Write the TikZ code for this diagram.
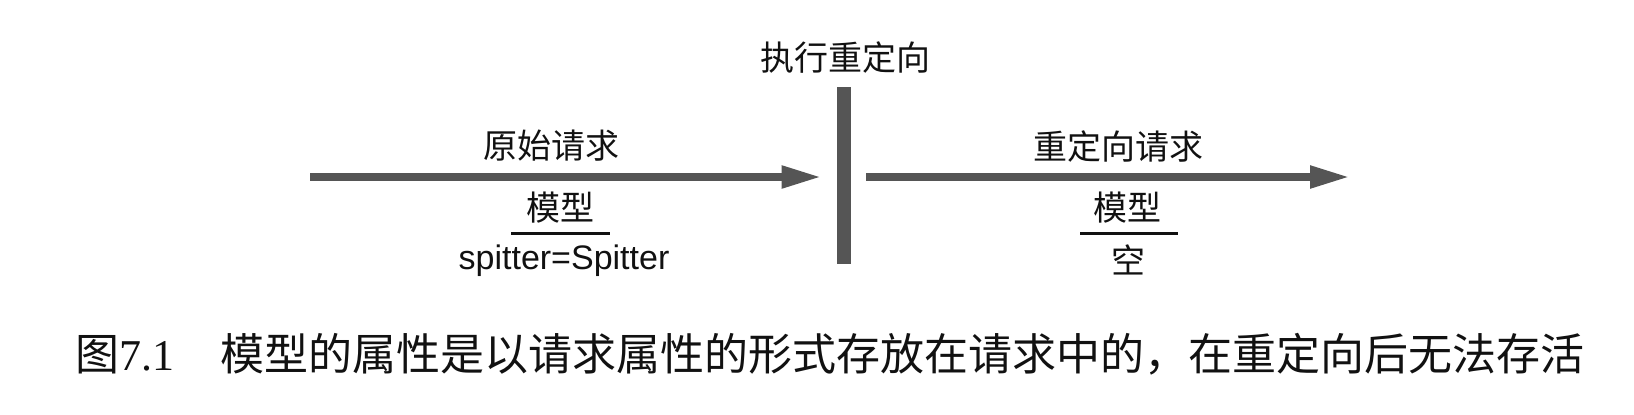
\documentclass[tikz,border=0pt]{standalone}
\usepackage{fontspec}
\setmainfont{Liberation Serif}
\setsansfont{Liberation Sans}
\newfontfamily\cjk{Noto Sans CJK SC}
\usepackage{tikz}
\usetikzlibrary{arrows.meta,positioning}
\definecolor{rdGray}{HTML}{555555}
\definecolor{rdText}{HTML}{111111}
\tikzset{
  rdlbl/.style={font=\fontsize{17pt}{20pt}\selectfont\cjk,text=rdText,inner sep=0pt},
  rdval/.style={rdlbl,font=\fontsize{17pt}{20pt}\selectfont\sffamily},
  rdbar/.style={fill=rdGray,draw=none,minimum width=7pt,minimum height=88.5pt,inner sep=0pt},
  rdflow/.style={-{Triangle[length=20pt,width=10.5pt]},draw=rdGray,line width=4pt},
  rdrule/.style={draw=rdText,line width=1.5pt},
  rdcap/.style={font=\fontsize{22pt}{26pt}\selectfont,text=rdText,inner sep=0pt},
}

\begin{document}
\begin{tikzpicture}[x=0.5pt,y=-0.5pt]
  \useasboundingbox (0,0) rectangle (1634,414);
  \node[rdbar] (bar) at (844,175.5) {};
  \node[rdlbl] (barlbl) at (845,58) {执行重定向};
  \coordinate (src) at (310,177);
  \coordinate (dst) at (1350,177);
  \draw[rdflow,shorten >=7.5pt] (src) -- (bar.west |- src);
  \draw[rdflow,shorten <=7.5pt] (bar.east |- src) -- (dst);

  % request names above the arrows, model contents below
  \node[rdlbl] (origreq) at (551,146) {原始请求};
  \node[rdlbl] (redirreq) at (1118,147) {重定向请求};
  \node[rdlbl] (lmodel) at (560,208) {模型};
  \node[rdval] (lval) at (564,261) {spitter=Spitter};
  \node[rdlbl] (rmodel) at (1127,208) {模型};
  \node[rdlbl] (rval) at (1128,260) {空};
  \foreach \a/\b in {511/610,1080/1178}{\draw[rdrule] (\a,233) -- (\b,233);}

  \node[rdcap] (caption) at (830,354)
        {{\cjk 图}7.1\hspace{23pt}{\cjk 模型的属性是以请求属性的形式存放在请求中的，在重定向后无法存活}};
\end{tikzpicture}
\end{document}
